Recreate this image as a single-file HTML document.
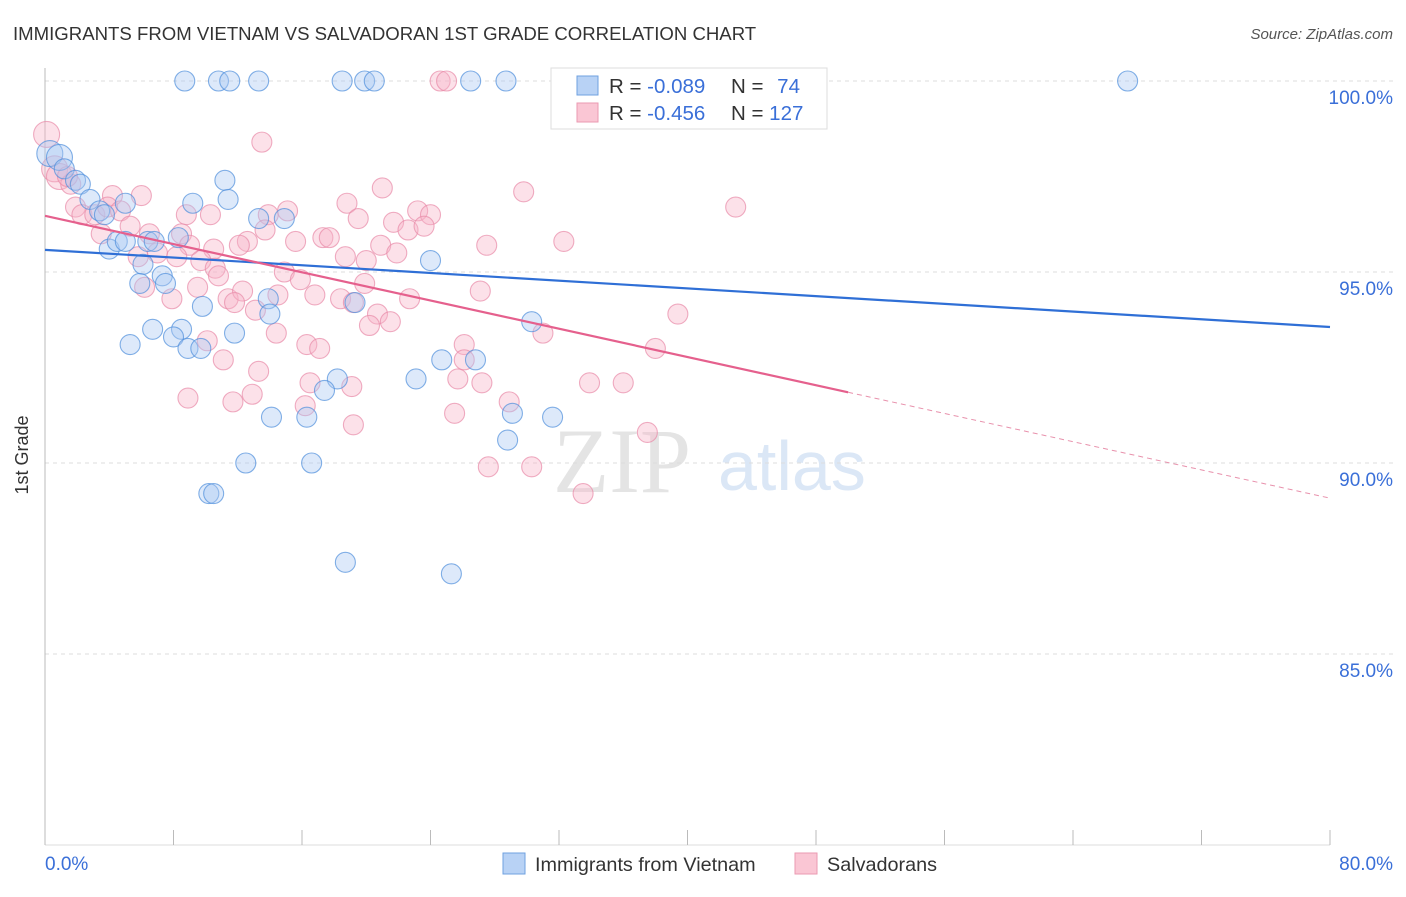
<!DOCTYPE html>
<html><head><meta charset="utf-8"><style>
body{margin:0;background:#fff;width:1406px;height:892px;overflow:hidden;font-family:"Liberation Sans",sans-serif}
</style></head><body>
<svg id="chart" width="1406" height="892" xmlns="http://www.w3.org/2000/svg">
<text x="13" y="40" font-size="18.6" fill="#333">IMMIGRANTS FROM VIETNAM VS SALVADORAN 1ST GRADE CORRELATION CHART</text>
<text x="1393" y="39" font-size="15" fill="#555" font-style="italic" text-anchor="end">Source: ZipAtlas.com</text>
<g>
<text x="553" y="492" font-size="92" fill="#e4e4e4" font-family="Liberation Serif,serif">ZIP</text>
<text x="718" y="490" font-size="70" fill="#dbe7f6">atlas</text>
</g>
<g id="grid"></g>
<g id="axes"></g>
<g id="pts"></g>
<g id="trends"></g>
<text x="28" y="455" font-size="18" fill="#333" transform="rotate(-90 28 455)" text-anchor="middle">1st Grade</text>
<g>
<rect x="551" y="68" width="276" height="61" fill="#fff" stroke="#ddd"/>
<rect x="577" y="76" width="21" height="19" fill="#b8d2f5" stroke="#6fa1e0"/>
<rect x="577" y="103" width="21" height="19" fill="#fac6d4" stroke="#eb9ab2"/>
<text x="609" y="93" font-size="20.5" fill="#333">R = <tspan fill="#3a6fd8">-0.089</tspan></text>
<text x="731" y="93" font-size="20.5" fill="#333">N = <tspan fill="#3a6fd8" dx="8">74</tspan></text>
<text x="609" y="120" font-size="20.5" fill="#333">R = <tspan fill="#3a6fd8">-0.456</tspan></text>
<text x="731" y="120" font-size="20.5" fill="#333">N = <tspan fill="#3a6fd8">127</tspan></text>
</g>
<g>
<rect x="503" y="853" width="22" height="21" fill="#b8d2f5" stroke="#6fa1e0"/>
<text x="535" y="871" font-size="19.8" fill="#333">Immigrants from Vietnam</text>
<rect x="795" y="853" width="22" height="21" fill="#fac6d4" stroke="#eb9ab2"/>
<text x="827" y="871" font-size="19.8" fill="#333">Salvadorans</text>
</g>
</svg>
<script>
const yTicks=[100,95,90,85];
const yTickLabels=["100.0%","95.0%","90.0%","85.0%"];
const xTicks=[0,8,16,24,32,40,48,56,64,72,80];
const xEndLabels=["0.0%","80.0%"];
const blueX=[8.7,10.8,11.5,13.3,18.5,19.9,20.5,26.5,28.7,43.2,67.4,0.3,0.9,1.2,1.9,2.2,2.8,3.4,5.0,3.7,11.2,11.4,9.2,13.3,14.9,4.0,4.5,5.0,6.4,6.8,8.3,6.1,5.9,7.3,7.5,9.8,13.9,14.0,6.7,8.5,8.0,11.8,5.3,8.9,9.7,19.3,24.0,30.3,24.7,26.8,18.2,17.4,23.1,29.1,31.6,14.1,16.3,28.8,12.5,16.6,10.2,10.5,18.7,25.3];
const blueY=[100,100,100,100,100,100,100,100,100,100,100,98.1,98.0,97.7,97.4,97.3,96.9,96.6,96.8,96.5,97.4,96.9,96.8,96.4,96.4,95.6,95.8,95.8,95.8,95.8,95.9,95.2,94.7,94.9,94.7,94.1,94.3,93.9,93.5,93.5,93.3,93.4,93.1,93.0,93.0,94.2,95.3,93.7,92.7,92.7,92.2,91.9,92.2,91.3,91.2,91.2,91.2,90.6,90.0,90.0,89.2,89.2,87.4,87.1];
const pinkX=[24.6,25.0,0.1,13.5,0.6,0.9,1.6,1.4,21.0,29.8,6.0,4.2,18.8,43.0,1.9,2.3,3.1,3.9,4.7,8.8,10.3,13.9,15.1,19.5,23.2,24.0,21.7,22.6,23.6,5.3,6.5,8.5,13.7,12.6,15.6,17.3,17.7,20.9,27.5,32.3,12.1,10.5,9.0,3.5,5.8,7.0,8.2,9.7,10.6,14.9,15.9,18.7,20.0,21.9,10.8,6.2,7.9,9.5,11.4,12.3,11.8,13.1,14.5,16.8,18.4,19.9,19.2,22.7,27.1,20.7,21.5,20.2,31.0,39.4,14.4,16.3,17.1,10.1,11.1,26.1,26.1,38.0,13.3,16.5,19.1,25.7,27.2,33.9,36.0,8.9,11.7,12.9,16.2,28.9,25.5,19.2,37.5,27.6,30.3,33.5];
const pinkY=[100,100,98.6,98.4,97.7,97.5,97.3,97.5,97.2,97.1,97.0,97.0,96.8,96.7,96.7,96.5,96.5,96.7,96.6,96.5,96.5,96.5,96.6,96.4,96.6,96.5,96.3,96.1,96.2,96.2,96.0,96.0,96.1,95.8,95.8,95.9,95.9,95.7,95.7,95.8,95.7,95.6,95.7,96.0,95.4,95.5,95.4,95.3,95.1,95.0,94.8,95.4,95.3,95.5,94.9,94.6,94.3,94.6,94.3,94.5,94.2,94.0,94.4,94.4,94.3,94.7,94.2,94.3,94.5,93.9,93.7,93.6,93.4,93.9,93.4,93.1,93.0,93.2,92.7,93.1,92.7,93.0,92.4,92.1,92.0,92.2,92.1,92.1,92.1,91.7,91.6,91.8,91.5,91.6,91.3,91.0,90.8,89.9,89.9,89.2];
const blueTrend=[95.58,93.56];
const pinkTrend=[96.47,89.08];
const pinkSolidEnd=[50];
const NS="http://www.w3.org/2000/svg";
const X0=45,X1=1330,Y100=81,PXPCT=38.2;
function sx(v){return X0+(v/80)*(X1-X0);}
function sy(v){return Y100+(100-v)*PXPCT;}
function mk(tag,attrs,parent){const e=document.createElementNS(NS,tag);for(const k in attrs)e.setAttribute(k,attrs[k]);document.getElementById(parent).appendChild(e);return e;}
yTicks.forEach((t,i)=>{
 const l=mk('line',{x1:X0,x2:1393,y1:sy(t),y2:sy(t),stroke:'#ddd','stroke-dasharray':'4,4'},'grid');
 
 
 const tx=mk('text',{x:1393,y:sy(t)+23,'font-size':19,fill:'#3a6fd8','text-anchor':'end'},'grid');
 tx.textContent=yTickLabels[i];
 
 
});
const ax=mk('line',{x1:X0,x2:X0,y1:68,y2:845,stroke:'#bbb'},'axes');


const bx=mk('line',{x1:X0,x2:X1,y1:845,y2:845,stroke:'#ddd'},'axes');


xTicks.forEach(t=>{
 const l=mk('line',{x1:sx(t),x2:sx(t),y1:830,y2:845,stroke:'#bbb'},'axes');
 
 
});
[[0,'start'],[80,'end']].forEach((p,i)=>{
 const tx=mk('text',{x:i?1393:45,y:870,'font-size':19,fill:'#3a6fd8','text-anchor':p[1]},'axes');
 tx.textContent=xEndLabels[i];
 
 
});
function pts(xs,ys,fill,stroke,name){
 xs.forEach((v,i)=>{
  const c=mk('circle',{cx:sx(v),cy:sy(ys[i]),r:(v<1?13:10),fill:fill,'fill-opacity':0.4,stroke:stroke,'stroke-opacity':0.7,'stroke-width':1.1},'pts');
  
  
 });
}
pts(pinkX,pinkY,'#f7b3c8','#e88aa8','salvadoran-point');
pts(blueX,blueY,'#a9c9f2','#4f8fdc','vietnam-point');
function yAt(tr,x){return tr[0]+(tr[1]-tr[0])*x/80;}
const bl=mk('line',{x1:sx(0),y1:sy(blueTrend[0]),x2:sx(80),y2:sy(blueTrend[1]),stroke:'#2f6fd6','stroke-width':2.2},'trends');


const pl=mk('line',{x1:sx(0),y1:sy(pinkTrend[0]),x2:sx(pinkSolidEnd[0]),y2:sy(yAt(pinkTrend,pinkSolidEnd[0])),stroke:'#e5608d','stroke-width':2.2},'trends');


const pd=mk('line',{x1:sx(pinkSolidEnd[0]),y1:sy(yAt(pinkTrend,pinkSolidEnd[0])),x2:sx(80),y2:sy(pinkTrend[1]),stroke:'#e891ac','stroke-width':1,'stroke-dasharray':'5,4'},'trends');


</script>
</body></html>
